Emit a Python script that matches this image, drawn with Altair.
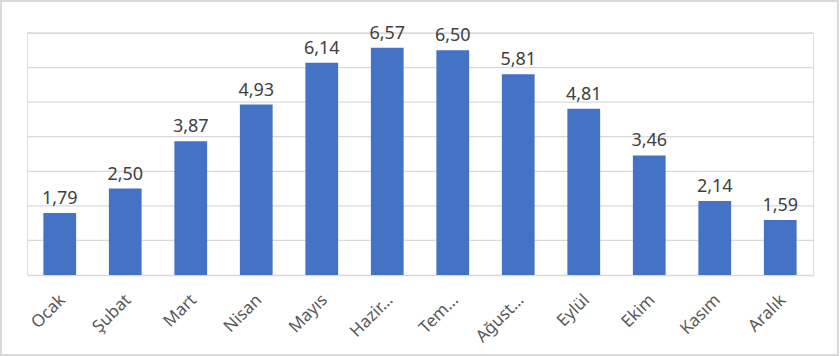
import altair as alt
import pandas as pd

months = ["Ocak", "Şubat", "Mart", "Nisan", "Mayıs", "Hazir…", "Tem…",
          "Ağust…", "Eylül", "Ekim", "Kasım", "Aralık"]
values = [1.79, 2.50, 3.87, 4.93, 6.14, 6.57, 6.50, 5.81, 4.81, 3.46, 2.14, 1.59]
grid_values = [1, 2, 3, 4, 5, 6, 7]

df = pd.DataFrame({"ay": months, "deger": values})
gdf = pd.DataFrame({"g": grid_values})

FONT = "Noto Sans"

base = alt.Chart(df)

x_enc = alt.X(
    "ay:N", sort=months, title=None,
    scale=alt.Scale(paddingInner=0.5, paddingOuter=0.25),
    axis=alt.Axis(labelAngle=-45, labelAlign="right", labelBaseline="middle",
                  labelPadding=22, labelOffset=3, labelFontSize=17,
                  labelColor="#595959", labelFont=FONT, ticks=False, domain=True,
                  domainColor="#d9d9d9", domainWidth=1.5, labelLimit=200),
)
y_scale = alt.Scale(domain=[0, 7], nice=False)
y_enc = alt.Y("deger:Q", title=None, scale=y_scale, axis=None)

grid = alt.Chart(gdf).mark_rule(color="#d9d9d9", strokeWidth=1.3).encode(
    y=alt.Y("g:Q", scale=y_scale, axis=None)
)

bars = base.mark_bar(color="#4472C4").encode(x=x_enc, y=y_enc)

labels = base.transform_calculate(
    etiket="replace(format(datum.deger, '.2f'), '.', ',')"
).mark_text(
    baseline="alphabetic", dy=-9, fontSize=18, color="#404040", font=FONT
).encode(x=alt.X("ay:N", sort=months), y=alt.Y("deger:Q", scale=y_scale, axis=None),
         text="etiket:N")

border = base.mark_rect(
    fill=None, stroke="#d9d9d9", strokeWidth=2
).encode(
    x=alt.value(-26), x2=alt.value(811), y=alt.value(-32), y2=alt.value(322)
)

chart = alt.layer(grid, bars, labels, border).properties(
    width=786, height=242,
    autosize=alt.AutoSizeParams(type="none"),
    padding={"left": 27, "top": 33, "right": 27, "bottom": 81},
).configure_view(stroke=None).configure(background="white")

chart.save("out.html", embed_options={"renderer": "svg", "actions": False})
